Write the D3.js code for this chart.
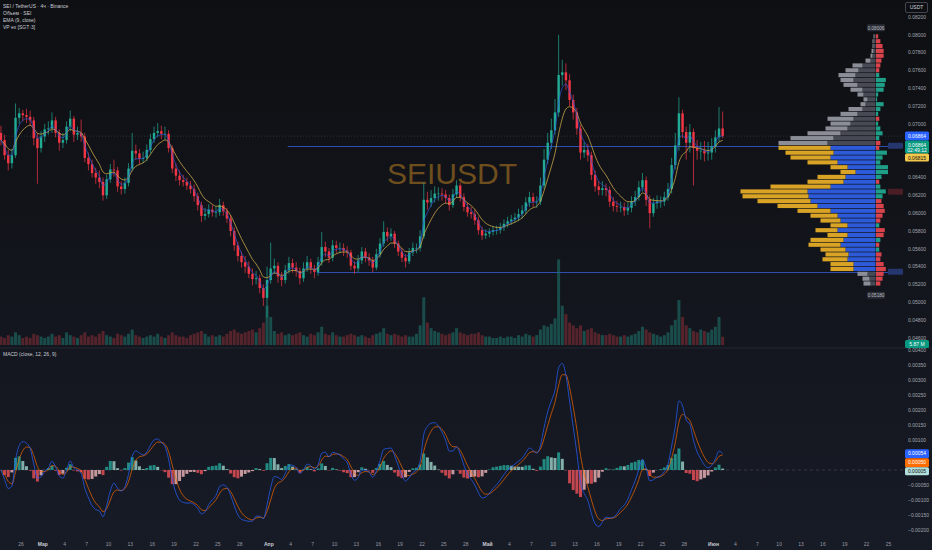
<!DOCTYPE html>
<html><head><meta charset="utf-8">
<script src="https://d3js.org/d3.v7.min.js"></script>
<style>
html,body{margin:0;padding:0;background:#131722;overflow:hidden}
svg{display:block}
text{font-family:"Liberation Sans",Arial,sans-serif}
</style></head><body>
<svg id="chart" width="932" height="550"></svg>
<script>
// ---------------- DATA ----------------
const legendLines = ["SEI / TetherUS · 4ч · Binance", "Объем · SEI", "EMA (9, close)", "VP ex [SGT·3]"];
const macdLegend = "MACD (close, 12, 26, 9)";
const watermark = "SEIUSDT";
const quoteCurrency = "USDT";
const countdown = "02:49:12";
const startTime = "2025-02-23T06:00:00Z"; // centre of first aggregated candle
const candleHours = 12;
const sourceTfHours = 4;
const firstOpen = 0.0690;
const closes = [0.0682,0.0665,0.0656,0.0665,0.0707,0.0712,0.0710,0.0708,0.0704,0.0684,
0.0673,0.0686,0.0694,0.0695,0.0704,0.0690,0.0679,0.0682,0.0697,0.0706,
0.0688,0.0690,0.0686,0.0662,0.0655,0.0645,0.0640,0.0635,0.0620,0.0638,
0.0649,0.0648,0.0630,0.0627,0.0634,0.0650,0.0670,0.0667,0.0661,0.0662,
0.0671,0.0683,0.0690,0.0692,0.0689,0.0689,0.0673,0.0650,0.0642,0.0637,
0.0635,0.0631,0.0627,0.0619,0.0609,0.0597,0.0599,0.0604,0.0601,0.0601,
0.0609,0.0602,0.0594,0.0580,0.0564,0.0552,0.0545,0.0540,0.0532,0.0526,
0.0527,0.0516,0.0505,0.0525,0.0538,0.0541,0.0529,0.0525,0.0536,0.0544,
0.0539,0.0535,0.0527,0.0538,0.0545,0.0538,0.0534,0.0545,0.0562,0.0557,
0.0550,0.0564,0.0561,0.0561,0.0558,0.0556,0.0541,0.0538,0.0547,0.0557,
0.0550,0.0547,0.0539,0.0554,0.0566,0.0579,0.0574,0.0577,0.0566,0.0557,
0.0550,0.0546,0.0556,0.0561,0.0561,0.0574,0.0615,0.0612,0.0617,0.0622,
0.0622,0.0621,0.0617,0.0609,0.0621,0.0631,0.0618,0.0607,0.0601,0.0599,
0.0592,0.0581,0.0575,0.0577,0.0579,0.0581,0.0581,0.0584,0.0588,0.0591,
0.0593,0.0595,0.0599,0.0603,0.0612,0.0618,0.0613,0.0613,0.0631,0.0660,
0.0679,0.0693,0.0713,0.0755,0.0758,0.0749,0.0727,0.0713,0.0695,0.0668,
0.0671,0.0665,0.0643,0.0630,0.0626,0.0628,0.0626,0.0613,0.0608,0.0607,
0.0607,0.0603,0.0606,0.0613,0.0618,0.0629,0.0637,0.0615,0.0600,0.0611,
0.0613,0.0613,0.0618,0.0627,0.0654,0.0676,0.0712,0.0691,0.0679,0.0691,
0.0673,0.0670,0.0670,0.0667,0.0668,0.0675,0.0685,0.0695,0.06864];
const highs = [0.0698,0.0688,0.0671,0.0672,0.0723,0.0718,0.0716,0.0717,0.0715,0.0708,
0.0690,0.0692,0.0700,0.0703,0.0713,0.0708,0.0694,0.0690,0.0703,0.0715,
0.0709,0.0697,0.0705,0.0690,0.0668,0.0660,0.0651,0.0648,0.0640,0.0643,
0.0655,0.0660,0.0652,0.0636,0.0640,0.0656,0.0690,0.0677,0.0672,0.0669,
0.0677,0.0689,0.0697,0.0701,0.0698,0.0697,0.0693,0.0676,0.0656,0.0648,
0.0643,0.0640,0.0636,0.0632,0.0623,0.0613,0.0606,0.0610,0.0609,0.0607,
0.0616,0.0613,0.0606,0.0598,0.0584,0.0568,0.0557,0.0552,0.0546,0.0538,
0.0535,0.0531,0.0520,0.0540,0.0567,0.0549,0.0545,0.0534,0.0542,0.0551,
0.0549,0.0545,0.0539,0.0545,0.0552,0.0549,0.0542,0.0551,0.0579,0.0568,
0.0561,0.0570,0.0569,0.0567,0.0566,0.0563,0.0559,0.0546,0.0553,0.0562,
0.0561,0.0555,0.0551,0.0560,0.0572,0.0591,0.0584,0.0583,0.0580,0.0569,
0.0561,0.0554,0.0561,0.0567,0.0566,0.0581,0.0634,0.0624,0.0626,0.0630,
0.0629,0.0628,0.0626,0.0621,0.0627,0.0637,0.0634,0.0622,0.0612,0.0607,
0.0604,0.0596,0.0585,0.0582,0.0583,0.0585,0.0586,0.0589,0.0593,0.0596,
0.0598,0.0600,0.0605,0.0609,0.0618,0.0624,0.0623,0.0619,0.0640,0.0672,
0.0690,0.0706,0.0728,0.0800,0.0772,0.0768,0.0756,0.0733,0.0718,0.0699,
0.0680,0.0678,0.0669,0.0648,0.0636,0.0636,0.0633,0.0630,0.0618,0.0614,
0.0613,0.0612,0.0612,0.0619,0.0625,0.0636,0.0645,0.0641,0.0620,0.0617,
0.0620,0.0619,0.0624,0.0634,0.0662,0.0690,0.0730,0.0716,0.0697,0.0700,
0.0695,0.0682,0.0680,0.0681,0.0680,0.0684,0.0693,0.0719,0.0714];
const lows = [0.0676,0.0660,0.0648,0.0650,0.0662,0.0700,0.0703,0.0701,0.0698,0.0676,
0.0633,0.0668,0.0680,0.0688,0.0690,0.0685,0.0670,0.0673,0.0678,0.0692,
0.0680,0.0682,0.0680,0.0657,0.0648,0.0640,0.0633,0.0628,0.0614,0.0616,
0.0634,0.0641,0.0624,0.0621,0.0622,0.0630,0.0647,0.0660,0.0655,0.0656,
0.0658,0.0667,0.0679,0.0685,0.0683,0.0682,0.0668,0.0645,0.0636,0.0631,
0.0630,0.0626,0.0622,0.0613,0.0603,0.0590,0.0592,0.0595,0.0596,0.0595,
0.0597,0.0597,0.0589,0.0574,0.0558,0.0546,0.0539,0.0533,0.0527,0.0519,
0.0520,0.0510,0.0496,0.0483,0.0521,0.0532,0.0522,0.0518,0.0521,0.0532,
0.0533,0.0529,0.0520,0.0523,0.0534,0.0532,0.0527,0.0530,0.0541,0.0551,
0.0544,0.0546,0.0555,0.0555,0.0552,0.0550,0.0536,0.0532,0.0534,0.0543,
0.0545,0.0541,0.0534,0.0536,0.0550,0.0562,0.0568,0.0569,0.0561,0.0552,
0.0545,0.0539,0.0543,0.0552,0.0555,0.0557,0.0571,0.0604,0.0607,0.0612,
0.0614,0.0614,0.0611,0.0603,0.0606,0.0617,0.0613,0.0602,0.0596,0.0594,
0.0587,0.0576,0.0570,0.0571,0.0573,0.0575,0.0576,0.0577,0.0580,0.0584,
0.0587,0.0589,0.0591,0.0594,0.0599,0.0607,0.0607,0.0606,0.0609,0.0627,
0.0655,0.0672,0.0688,0.0708,0.0743,0.0738,0.0720,0.0705,0.0688,0.0660,
0.0662,0.0658,0.0637,0.0624,0.0620,0.0620,0.0619,0.0607,0.0602,0.0601,
0.0601,0.0597,0.0598,0.0601,0.0608,0.0614,0.0624,0.0608,0.0583,0.0596,
0.0605,0.0606,0.0608,0.0614,0.0622,0.0649,0.0670,0.0684,0.0660,0.0668,
0.0631,0.0660,0.0660,0.0658,0.0659,0.0660,0.0668,0.0680,0.0684];
const volumes = [6,5,7,6,9,7,5,6,5,8, 7,6,5,6,8,6,7,5,9,7, 6,5,7,9,6,7,6,8,10,7,
6,5,8,7,6,8,11,7,6,5, 6,7,6,8,6,5,7,9,7,6, 6,5,7,8,9,10,8,6,7,6,
7,6,8,10,11,9,8,9,10,11, 9,12,16,28,20,10,8,9,7,8, 7,8,9,7,6,8,7,9,13,8,
7,9,7,6,6,7,8,7,6,7, 6,5,7,8,9,12,8,7,8,7, 6,7,6,6,8,14,34,16,12,10,
9,8,7,8,9,12,9,8,7,8, 8,9,7,6,6,5,5,6,5,6, 6,5,7,6,8,7,6,7,11,14,
13,15,19,61,28,22,16,14,12,14, 10,11,12,9,8,7,7,8,7,6, 6,7,6,7,8,10,13,11,9,8,
7,6,7,9,14,18,32,20,14,12, 10,9,11,10,9,11,13,20,5.87];
const emaLen = 9, maLen = 21, macdFast = 12, macdSlow = 26, macdSignal = 9;
const priceTicks = [0.082,0.080,0.078,0.076,0.074,0.072,0.070,0.068,0.066,0.064,0.062,0.060,0.058,0.056,0.054,0.052,0.050,0.048,0.046];
const macdTicks = [0.004,0.0035,0.003,0.0025,0.002,0.0015,0.001,0.0005,0,-0.0005,-0.001,-0.0015,-0.002];
const xTickDates = ["2025-02-26","2025-03-01","2025-03-04","2025-03-07","2025-03-10","2025-03-13","2025-03-16","2025-03-19","2025-03-22","2025-03-25","2025-03-28",
"2025-04-01","2025-04-04","2025-04-07","2025-04-10","2025-04-13","2025-04-16","2025-04-19","2025-04-22","2025-04-25","2025-04-28",
"2025-05-01","2025-05-04","2025-05-07","2025-05-10","2025-05-13","2025-05-16","2025-05-19","2025-05-22","2025-05-25","2025-05-28",
"2025-06-01","2025-06-04","2025-06-07","2025-06-10","2025-06-13","2025-06-16","2025-06-19","2025-06-22","2025-06-25"];
const monthNames = ["Янв","Фев","Мар","Апр","Май","Июн","Июл"];
const vpTop = 0.08006, vpBottom = 0.05180;
const vpUp = [1,2,2,2,3,5,13,17,20,22,18,13,12,8,10,13,18,22,25,28,35,42,48,45,42,45,38,28,20,30,32,45,68,67,65,58,45,38,35,28,38,28,32,35,30,27,28,22,22,8,6,5];
const vpDown = [1,1,1,2,2,5,10,13,17,13,14,12,6,4,5,14,17,26,20,22,33,43,49,52,48,40,30,17,15,28,36,60,67,66,53,40,33,27,20,17,22,20,33,32,25,23,25,23,23,10,7,7];
const vpDelta = [-2,-4,-6,-7,-7,-5,-4,-3,3,9,8,7,2,1,7,4,2,-3,2,4,6,3,-4,-3,10,6,4,11,11,5,-3,4,9,6,-5,-7,-8,-6,-4,3,-8,-7,4,-3,3,-5,-4,-7,-9,-7,-6,-4];
const vaHigh = 0.06756, vaLow = 0.05343;
const vaLineStarts = ["2025-04-03T14:00:00Z", "2025-04-07T14:00:00Z"];

// ---------------- LAYOUT ----------------
const W = 932, H = 550, plotR = 903, paneSplit = 347.5, axisX = 905;
const svg = d3.select("#chart");
const defs = svg.append("defs");
const grad = defs.append("linearGradient").attr("id","bg").attr("x1",0).attr("y1",0).attr("x2",0).attr("y2",1);
grad.append("stop").attr("offset","0%").attr("stop-color","#0e0f12");
grad.append("stop").attr("offset","100%").attr("stop-color","#171b26");
svg.append("rect").attr("width",W).attr("height",H).attr("fill","url(#bg)");
defs.append("clipPath").attr("id","mainClip").append("rect").attr("x",0).attr("y",0).attr("width",plotR).attr("height",paneSplit);
defs.append("clipPath").attr("id","macdClip").append("rect").attr("x",0).attr("y",paneSplit+1).attr("width",plotR).attr("height",533-paneSplit);

const x = d3.scaleUtc().domain([new Date("2025-02-26T00:00:00Z"), new Date("2025-06-25T00:00:00Z")]).range([21, 888.5]);
const yP = d3.scaleLinear().domain([0.046, 0.082]).range([338, 17]);
const yV = d3.scaleLinear().domain([0, 62]).range([345, 258]);
const yM = d3.scaleLinear().domain([-0.002, 0.004]).range([530, 350]);

const t0 = Date.parse(startTime);
const step = candleHours * 3600e3;
const bars = closes.map((c, i) => ({
  t: new Date(t0 + i * step), o: i === 0 ? firstOpen : closes[i - 1], c, h: highs[i], l: lows[i], v: volumes[i]
}));
const spacing = x(new Date(t0 + step)) - x(new Date(t0));
const cw = spacing * 0.66;
const bw = spacing * 0.82;

// EMA helper, converts a period on the source timeframe to aggregated candles
const perCandle = candleHours / sourceTfHours;
function ema(vals, len) {
  const a = 1 - Math.pow(1 - 2 / (len + 1), perCandle);
  let e = vals[0];
  return vals.map((v, i) => (e = i === 0 ? v : e + a * (v - e)));
}
const ema9 = ema(closes, emaLen);
const ma21 = ema(closes, maLen);
const fast = ema(closes, macdFast), slow = ema(closes, macdSlow);
const macd = fast.map((f, i) => f - slow[i]);
const signal = ema(macd, macdSignal);
const hist = macd.map((m, i) => m - signal[i]);

const fmt5 = v => (v < 0 ? "\u2212" : "") + Math.abs(v).toFixed(5);

// ---------------- MAIN PANE ----------------
const main = svg.append("g").attr("clip-path","url(#mainClip)");
// watermark
main.append("text").attr("x", 452).attr("y", 184).attr("text-anchor","middle")
  .attr("font-size", 30).attr("fill","#6e4e1d").text(watermark);

// value-area lines
[vaHigh, vaLow].forEach((v, i) => {
  main.append("line").attr("x1", x(new Date(vaLineStarts[i]))).attr("x2", plotR)
    .attr("y1", Math.round(yP(v)) + 0.5).attr("y2", Math.round(yP(v)) + 0.5)
    .attr("stroke","#2f4fb0").attr("stroke-width",1);
});
// last price dotted line
main.append("line").attr("x1",0).attr("x2",plotR)
  .attr("y1", yP(closes[closes.length-1])).attr("y2", yP(closes[closes.length-1]))
  .attr("stroke","#3a4a48").attr("stroke-width",0.6).attr("stroke-dasharray","1,2");

// volume bars
main.append("g").selectAll("rect").data(bars).join("rect")
  .attr("x", d => x(d.t) - bw / 2).attr("width", bw)
  .attr("y", d => yV(d.v)).attr("height", d => yV(0) - yV(d.v))
  .attr("fill", d => d.c >= d.o ? "#1f7a70" : "#8a2f37").attr("opacity", 0.55);

// volume profile
const nRows = vpUp.length;
const bin = (vpTop - vpBottom) / nRows;
const totals = vpUp.map((u, i) => u + vpDown[i]);
const vpW = d3.scaleLinear().domain([0, d3.max(totals)]).range([0, 135]);
const dW = d3.scaleLinear().domain([0, d3.max(vpDelta, d => Math.abs(d))]).range([0, 12]);
const vpRight = 875.5;
const vpG = main.append("g");
let pocIdx = totals.indexOf(d3.max(totals));
vpUp.forEach((u, i) => {
  const top = vpTop - i * bin, bot = top - bin;
  const y0 = yP(top), y1 = yP(bot);
  const hh = Math.max(0.5, y1 - y0 - 0.7);
  const mid = (top + bot) / 2;
  const inVA = mid <= vaHigh && mid >= vaLow;
  const uw = vpW(u), dw = vpW(vpDown[i]);
  vpG.append("rect").attr("x", vpRight - uw).attr("y", y0).attr("width", uw).attr("height", hh)
    .attr("fill", inVA ? "#2c5ad8" : "#474a54");
  vpG.append("rect").attr("x", vpRight - uw - dw).attr("y", y0).attr("width", dw).attr("height", hh)
    .attr("fill", inVA ? "#d9a325" : "#8b8e96");
  const dv = vpDelta[i];
  vpG.append("rect").attr("x", vpRight + 0.5).attr("y", y0).attr("width", dW(Math.abs(dv))).attr("height", hh)
    .attr("fill", dv >= 0 ? "#1f9e88" : "#d9434c");
});
// vp range labels
function smallBox(g, cx, cy, txt, bg, fg, w) {
  g.append("rect").attr("x", cx - w / 2).attr("y", cy - 3.5).attr("width", w).attr("height", 7)
    .attr("rx", 1.2).attr("fill", bg);
  g.append("text").attr("x", cx).attr("y", cy + 1.8).attr("text-anchor","middle")
    .attr("font-size", 4.6).attr("fill", fg).text(txt);
}
smallBox(main, 876, yP(vpTop) - 6.5, vpTop.toFixed(5), "#2a2d35", "#b8bbc3", 18);
smallBox(main, 876, yP(vpBottom) + 9, vpBottom.toFixed(5), "#2a2d35", "#b8bbc3", 18);
// VAH / POC / VAL markers
const pocPrice = vpTop - (pocIdx + 0.5) * bin;
[[vaHigh, "#25376e"], [pocPrice, "#4a1e24"], [vaLow, "#25376e"]].forEach(([v, c]) => {
  main.append("rect").attr("x", 888).attr("y", yP(v) - 3).attr("width", 15).attr("height", 6)
    .attr("rx", 1).attr("fill", c);
});

// candles
const cg = main.append("g");
cg.selectAll("line").data(bars).join("line")
  .attr("x1", d => x(d.t)).attr("x2", d => x(d.t))
  .attr("y1", d => yP(d.h)).attr("y2", d => yP(d.l))
  .attr("stroke", d => d.c >= d.o ? "#22ab94" : "#f23645").attr("stroke-width", 0.7);
cg.selectAll("rect").data(bars).join("rect")
  .attr("x", d => x(d.t) - cw / 2).attr("width", cw)
  .attr("y", d => yP(Math.max(d.o, d.c))).attr("height", d => Math.max(0.6, Math.abs(yP(d.o) - yP(d.c))))
  .attr("fill", d => d.c >= d.o ? "#22ab94" : "#f23645");

// EMA lines
const lineP = d3.line().x((d, i) => x(bars[i].t)).y(d => yP(d)).curve(d3.curveMonotoneX);
main.append("path").datum(ma21).attr("d", lineP).attr("fill","none").attr("stroke","#c9a74a").attr("stroke-width",0.8);
main.append("path").datum(ema9).attr("d", lineP).attr("fill","none").attr("stroke","#2f55d4").attr("stroke-width",0.8).attr("opacity",0.9);

// pane separator
svg.append("line").attr("x1",0).attr("x2",W).attr("y1",paneSplit+0.5).attr("y2",paneSplit+0.5).attr("stroke","#23262e");

// ---------------- MACD PANE ----------------
const mp = svg.append("g").attr("clip-path","url(#macdClip)");
mp.append("line").attr("x1",0).attr("x2",plotR).attr("y1",yM(0)).attr("y2",yM(0))
  .attr("stroke","#4a4e5a").attr("stroke-width",0.6).attr("stroke-dasharray","3,3");
mp.append("g").selectAll("rect").data(hist).join("rect")
  .attr("x", (d, i) => x(bars[i].t) - bw / 2).attr("width", bw)
  .attr("y", d => Math.min(yM(d), yM(0))).attr("height", d => Math.abs(yM(d) - yM(0)))
  .attr("fill", (d, i) => {
    const p = i > 0 ? hist[i - 1] : 0;
    if (d >= 0) return d > p ? "#26a69a" : "#9fd3cc";
    return d < p ? "#f0515a" : "#f2b8bc";
  }).attr("opacity", 0.8);
const lineM = d3.line().x((d, i) => x(bars[i].t)).y(d => yM(d)).curve(d3.curveMonotoneX);
mp.append("path").datum(signal).attr("d", lineM).attr("fill","none").attr("stroke","#ff6d00").attr("stroke-width",0.8).attr("opacity",0.85);
mp.append("path").datum(macd).attr("d", lineM).attr("fill","none").attr("stroke","#2962ff").attr("stroke-width",0.8).attr("opacity",0.9);

// ---------------- LEGENDS ----------------
legendLines.forEach((t, i) => {
  svg.append("text").attr("x", 3).attr("y", 7.5 + i * 7).attr("font-size", 5).attr("fill","#c9ccd4").text(t);
});
svg.append("text").attr("x", 3).attr("y", 356).attr("font-size", 5).attr("fill","#c9ccd4").text(macdLegend);

// ---------------- X AXIS ----------------
const xa = svg.append("g");
xTickDates.forEach(s => {
  const d = new Date(s + "T00:00:00Z");
  const isMonth = d.getUTCDate() === 1;
  xa.append("text").attr("x", x(d)).attr("y", 545.5).attr("text-anchor","middle")
    .attr("font-size", 5).attr("font-weight", isMonth ? "bold" : "normal")
    .attr("fill", isMonth ? "#c9ccd4" : "#9598a1")
    .text(isMonth ? monthNames[d.getUTCMonth()] : d.getUTCDate());
});

// ---------------- RIGHT AXES & TAGS ----------------
function placeTags(tags, scale) {
  tags.forEach(t => t.y = scale(t.v));
  tags.sort((a, b) => a.y - b.y);
  for (let i = 1; i < tags.length; i++) {
    const prev = tags[i - 1], cur = tags[i];
    const minY = prev.y + (prev.h + cur.h) / 2;
    if (cur.y < minY) cur.y = minY;
  }
  return tags;
}
function drawTags(tags) {
  tags.forEach(t => {
    svg.append("rect").attr("x", axisX).attr("y", t.y - t.h / 2).attr("width", 24).attr("height", t.h)
      .attr("rx", 1.5).attr("fill", t.bg);
    t.lines.forEach((s, k) => {
      svg.append("text").attr("x", axisX + 12).attr("y", t.y - t.h / 2 + 6.2 + k * 5.5)
        .attr("text-anchor","middle").attr("font-size", 5).attr("fill", t.fg).text(s);
    });
  });
}
function drawTicks(ticks, scale, tags) {
  ticks.forEach(v => {
    const y = scale(v);
    const hidden = tags.some(t => Math.abs(t.y - y) < t.h / 2 + 2);
    if (hidden) return;
    svg.append("text").attr("x", axisX + 3).attr("y", y + 1.8).attr("font-size", 5)
      .attr("fill","#a3a6af").text(fmt5(v));
  });
}
const lastClose = closes[closes.length - 1];
const priceTags = placeTags([
  {v: ema9[ema9.length - 1], h: 9, bg: "#2962ff", fg: "#ffffff", lines: [fmt5(ema9[ema9.length - 1])]},
  {v: lastClose, h: 13, bg: "#089981", fg: "#ffffff", lines: [fmt5(lastClose), countdown]},
  {v: ma21[ma21.length - 1], h: 8, bg: "#f2c94c", fg: "#111111", lines: [fmt5(ma21[ma21.length - 1])]}
], yP);
drawTicks(priceTicks, yP, priceTags);
drawTags(priceTags);

const macdTags = placeTags([
  {v: macd[macd.length - 1], h: 9, bg: "#2962ff", fg: "#ffffff", lines: [fmt5(macd[macd.length - 1])]},
  {v: signal[signal.length - 1], h: 9, bg: "#ff6d00", fg: "#ffffff", lines: [fmt5(signal[signal.length - 1])]},
  {v: hist[hist.length - 1], h: 8, bg: "#b2dfdb", fg: "#111111", lines: [fmt5(hist[hist.length - 1])]}
], yM);
drawTicks(macdTicks, yM, macdTags);
drawTags(macdTags);

// volume tag
const lastVol = volumes[volumes.length - 1];
drawTags([{y: yV(0) - 1, h: 8, bg: "#089981", fg: "#ffffff", lines: [lastVol.toFixed(2) + " M"]}]);

// currency box
svg.append("rect").attr("x", axisX + 0.5).attr("y", 2.5).attr("width", 22).attr("height", 10)
  .attr("rx", 1.5).attr("fill","none").attr("stroke","#434651");
svg.append("text").attr("x", axisX + 11.5).attr("y", 9.4).attr("text-anchor","middle")
  .attr("font-size", 5).attr("fill","#d1d4dc").text(quoteCurrency);
</script>
</body></html>
